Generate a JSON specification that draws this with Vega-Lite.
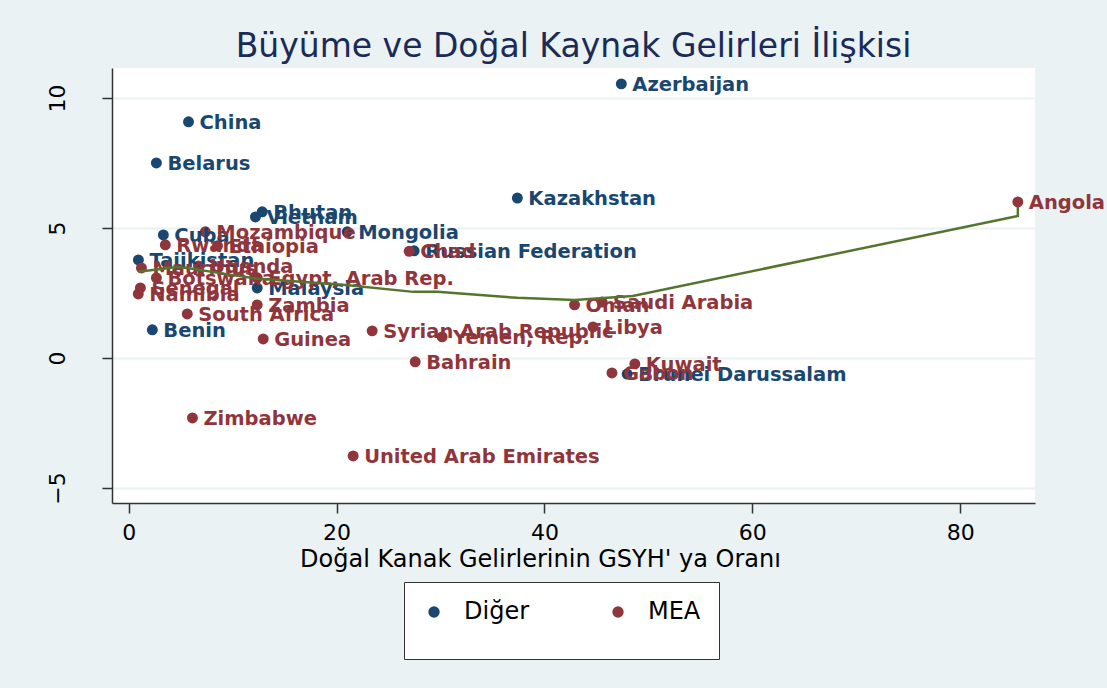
{
"$schema": "https://vega.github.io/schema/vega-lite/v6.json",
"width": 923, "height": 435,
"autosize": {"type": "none"},
"padding": {"left": 112, "top": 68, "right": 72, "bottom": 185},
"background": "#EAF2F3",
"config": {"view": {"fill": "white", "stroke": null}, "font": "DejaVu Sans"},
"title": {"text": "Büyüme ve Doğal Kaynak Gelirleri İlişkisi", "fontSize": 33, "fontWeight": "normal", "color": "#1b2a57", "anchor": "middle", "frame": "group", "baseline": "alphabetic", "offset": -22},
"datasets": {
"pts": [
{"name": "Azerbaijan", "x": 47.4, "y": 10.54, "grp": "Diğer"},
{"name": "China", "x": 5.76, "y": 9.08, "grp": "Diğer"},
{"name": "Belarus", "x": 2.67, "y": 7.5, "grp": "Diğer"},
{"name": "Kazakhstan", "x": 37.4, "y": 6.15, "grp": "Diğer"},
{"name": "Bhutan", "x": 12.85, "y": 5.62, "grp": "Diğer"},
{"name": "Vietnam", "x": 12.2, "y": 5.42, "grp": "Diğer"},
{"name": "Mongolia", "x": 21.03, "y": 4.85, "grp": "Diğer"},
{"name": "Cuba", "x": 3.34, "y": 4.73, "grp": "Diğer"},
{"name": "Russian Federation", "x": 27.47, "y": 4.12, "grp": "Diğer"},
{"name": "Tajikistan", "x": 0.94, "y": 3.77, "grp": "Diğer"},
{"name": "Malaysia", "x": 12.37, "y": 2.69, "grp": "Diğer"},
{"name": "Benin", "x": 2.28, "y": 1.08, "grp": "Diğer"},
{"name": "Brunei Darussalam", "x": 47.96, "y": -0.62, "grp": "Diğer"},
{"name": "Angola", "x": 85.55, "y": 6.0, "grp": "MEA"},
{"name": "Mozambique", "x": 7.38, "y": 4.85, "grp": "MEA"},
{"name": "Rwanda", "x": 3.53, "y": 4.35, "grp": "MEA"},
{"name": "Ethiopia", "x": 8.55, "y": 4.31, "grp": "MEA"},
{"name": "Chad", "x": 26.99, "y": 4.1, "grp": "MEA"},
{"name": "Uganda", "x": 6.72, "y": 3.54, "grp": "MEA"},
{"name": "Mauritius", "x": 1.23, "y": 3.46, "grp": "MEA"},
{"name": "Botswana", "x": 2.67, "y": 3.08, "grp": "MEA"},
{"name": "Egypt, Arab Rep.", "x": 12.37, "y": 3.08, "grp": "MEA"},
{"name": "Senegal", "x": 1.13, "y": 2.69, "grp": "MEA"},
{"name": "Namibia", "x": 0.93, "y": 2.46, "grp": "MEA"},
{"name": "Zambia", "x": 12.37, "y": 2.04, "grp": "MEA"},
{"name": "South Africa", "x": 5.64, "y": 1.69, "grp": "MEA"},
{"name": "Guinea", "x": 12.95, "y": 0.73, "grp": "MEA"},
{"name": "Syrian Arab Republic", "x": 23.43, "y": 1.04, "grp": "MEA"},
{"name": "Yemen, Rep.", "x": 30.16, "y": 0.81, "grp": "MEA"},
{"name": "Bahrain", "x": 27.57, "y": -0.15, "grp": "MEA"},
{"name": "Oman", "x": 42.9, "y": 2.04, "grp": "MEA"},
{"name": "Saudi Arabia", "x": 45.55, "y": 2.15, "grp": "MEA"},
{"name": "Libya", "x": 44.68, "y": 1.19, "grp": "MEA"},
{"name": "Kuwait", "x": 48.7, "y": -0.23, "grp": "MEA"},
{"name": "Gabon", "x": 46.5, "y": -0.58, "grp": "MEA"},
{"name": "Zimbabwe", "x": 6.14, "y": -2.31, "grp": "MEA"},
{"name": "United Arab Emirates", "x": 21.6, "y": -3.77, "grp": "MEA"}
],
"fit": [
{"o": 1, "x": 0.94, "y": 3.31},
{"o": 2, "x": 4.68, "y": 3.5},
{"o": 3, "x": 5.64, "y": 3.46},
{"o": 4, "x": 8.62, "y": 3.27},
{"o": 5, "x": 12.47, "y": 3.04},
{"o": 6, "x": 20.65, "y": 2.81},
{"o": 7, "x": 27.4, "y": 2.54},
{"o": 8, "x": 29.7, "y": 2.54},
{"o": 9, "x": 37.4, "y": 2.31},
{"o": 10, "x": 42.9, "y": 2.23},
{"o": 11, "x": 48.5, "y": 2.38},
{"o": 12, "x": 85.55, "y": 5.46},
{"o": 13, "x": 85.55, "y": 5.8}
]
},
"encoding": {
"x": {"field": "x", "type": "quantitative", "scale": {"domain": [-1.6, 87.2], "nice": false, "zero": false},
 "axis": {"values": [0, 20, 40, 60, 80], "grid": false, "domainColor": "#333", "domainWidth": 1.5, "tickColor": "#333", "tickWidth": 1.5, "tickSize": 10, "labelFontSize": 22, "labelColor": "black", "labelPadding": 9, "title": "Doğal Kanak Gelirlerinin GSYH' ya Oranı", "titleFontSize": 24, "titleFontWeight": "normal", "titleColor": "black", "titlePadding": 4, "titleX": 428, "titleAlign": "center"}},
"y": {"field": "y", "type": "quantitative", "scale": {"domain": [-5.58, 11.15], "nice": false, "zero": false},
 "axis": {"values": [-5, 0, 5, 10], "grid": true, "gridColor": "#EAF2F3", "gridWidth": 2, "domainColor": "#333", "domainWidth": 1.5, "tickColor": "#333", "tickWidth": 1.5, "tickSize": 10, "labelFontSize": 22, "labelColor": "black", "labelAngle": -90, "labelPadding": 33, "title": null}}
},
"layer": [
{"data": {"name": "pts"}, "mark": {"type": "point", "filled": true, "opacity": 1, "size": 120},
 "encoding": {"color": {"field": "grp", "type": "nominal", "scale": {"domain": ["Diğer", "MEA"], "range": ["#1a476f", "#90353b"]},
  "legend": {"orient": "none", "legendX": 292, "legendY": 514, "direction": "horizontal", "title": " ", "titleOrient": "bottom", "titleFontSize": 10, "titlePadding": 7, "padding": 18, "fillColor": "white", "strokeColor": "#333", "symbolType": "circle", "symbolSize": 130, "symbolStrokeWidth": 0, "labelFontSize": 24, "labelColor": "black", "labelOffset": 18, "columnPadding": 76}}}},
{"data": {"name": "pts"}, "mark": {"type": "text", "align": "left", "baseline": "middle", "dx": 11, "dy": 1, "fontSize": 19.5, "fontWeight": "bold"},
 "encoding": {"text": {"field": "name"}, "color": {"field": "grp", "type": "nominal", "legend": null}}},
{"data": {"name": "fit"}, "mark": {"type": "line", "color": "#55752f", "strokeWidth": 2.5},
 "encoding": {"order": {"field": "o", "type": "quantitative"}}}
]
}
